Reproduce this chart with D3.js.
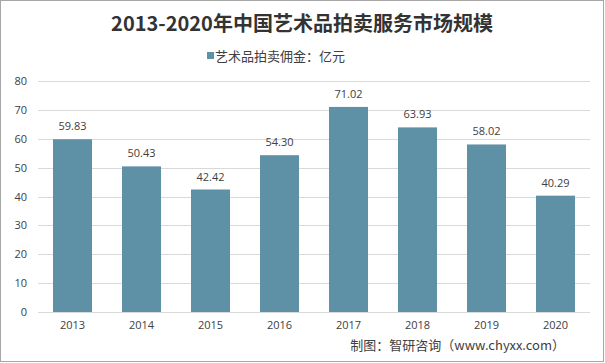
<!DOCTYPE html>
<html>
<head>
<meta charset="utf-8">
<script src="https://cdn.jsdelivr.net/npm/d3@7"></script>
<style>
  body { margin: 0; background: #fff; }
  svg { display: block; overflow: visible; }
  svg text { font-family: "Open Sans", "Noto Sans CJK SC", sans-serif; }
</style>
</head>
<body>
<div id="chart"></div>
<script>
// Data
const years = ["2013", "2014", "2015", "2016", "2017", "2018", "2019", "2020"];
const values = [59.83, 50.43, 42.42, 54.30, 71.02, 63.93, 58.02, 40.29];
const yTicks = [0, 10, 20, 30, 40, 50, 60, 70, 80];

const width = 605;
const height = 363;
const margin = {top: 81, right: 15, bottom: 51, left: 38};
const innerWidth = width - margin.left - margin.right;
const innerHeight = height - margin.top - margin.bottom;

const barColour = "#5E90A6";
const textColour = "#404040";

const svg = d3.select("#chart")
  .append("svg")
    .attr("width", width)
    .attr("height", height);

// title
svg.append("text")
  .attr("x", 302)
  .attr("y", 31)
  .attr("text-anchor", "middle")
  .attr("font-size", 20)
  .attr("font-weight", "bold")
  .attr("fill", "#333")
  .style("font-family", "'Noto Sans CJK SC', sans-serif")
  .text("2013-2020年中国艺术品拍卖服务市场规模");

// legend
svg.append("rect")
  .attr("x", 207).attr("y", 52)
  .attr("width", 7).attr("height", 7)
  .attr("fill", barColour);
svg.append("text")
  .attr("x", 215).attr("y", 61)
  .attr("font-size", 13)
  .attr("fill", textColour)
  .style("font-family", "'Noto Sans CJK SC', sans-serif")
  .text("艺术品拍卖佣金：亿元");

const innerChart = svg.append("g")
  .attr("transform", `translate(${margin.left}, ${margin.top})`);

// scales
const xScale = d3.scaleBand()
  .domain(years)
  .range([0, innerWidth])
  .paddingInner(0.435)
  .paddingOuter(0.2175);

const yScale = d3.scaleLinear()
  .domain([0, 80])
  .range([innerHeight, 0]);

// gridlines
innerChart.selectAll(".grid")
  .data(yTicks)
  .join("line")
    .attr("class", "grid")
    .attr("x1", 0)
    .attr("x2", innerWidth)
    .attr("y1", d => Math.round(yScale(d)) + 0.5)
    .attr("y2", d => Math.round(yScale(d)) + 0.5)
    .attr("stroke", "#d9d9d9");

// left axis labels
const leftAxis = d3.axisLeft(yScale)
  .tickValues(yTicks)
  .tickSize(0)
  .tickPadding(11);
innerChart.append("g")
  .attr("class", "axis-y")
  .call(leftAxis)
  .call(g => g.select(".domain").remove())
  .call(g => g.selectAll("text")
    .attr("font-size", 11)
    .attr("fill", textColour)
    .style("font-family", "'Open Sans', sans-serif"));

// bottom axis labels
const bottomAxis = d3.axisBottom(xScale)
  .tickSize(0)
  .tickPadding(9);
innerChart.append("g")
  .attr("class", "axis-x")
  .attr("transform", `translate(0, ${innerHeight})`)
  .call(bottomAxis)
  .call(g => g.select(".domain").remove())
  .call(g => g.selectAll("text")
    .attr("font-size", 11)
    .attr("fill", textColour)
    .style("font-family", "'Open Sans', sans-serif"));

// bars
innerChart.selectAll(".bar")
  .data(values)
  .join("rect")
    .attr("class", "bar")
    .attr("x", (d, i) => xScale(years[i]))
    .attr("y", d => yScale(d))
    .attr("width", xScale.bandwidth())
    .attr("height", d => innerHeight - yScale(d))
    .attr("fill", barColour);

// value labels
innerChart.selectAll(".label")
  .data(values)
  .join("text")
    .attr("class", "label")
    .attr("x", (d, i) => xScale(years[i]) + xScale.bandwidth() / 2)
    .attr("y", d => yScale(d) - 9)
    .attr("text-anchor", "middle")
    .attr("font-size", 11)
    .attr("fill", textColour)
    .text(d => d.toFixed(2));

// source
svg.append("text")
  .attr("x", 565)
  .attr("y", 350)
  .attr("text-anchor", "end")
  .attr("font-size", 13)
  .attr("fill", textColour)
  .style("font-family", "'Noto Sans CJK SC', sans-serif")
  .text("制图：智研咨询（www.chyxx.com）");

// outer frame, drawn last without fill
svg.append("rect")
  .attr("x", 0.5).attr("y", 0.5)
  .attr("width", width - 2).attr("height", height - 2)
  .attr("fill", "none")
  .attr("stroke", "#a6a6a6");
</script>
</body>
</html>
